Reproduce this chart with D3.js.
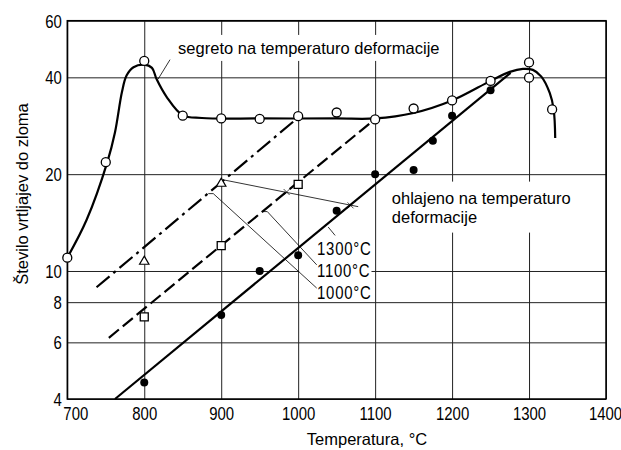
<!DOCTYPE html>
<html>
<head>
<meta charset="utf-8">
<script src="https://cdn.jsdelivr.net/npm/d3@7"></script>
<style>
  html, body { margin: 0; padding: 0; background: #fff; }
  svg { display: block; }
</style>
</head>
<body>
<svg id="chart" width="621" height="450"></svg>
<script>
// ---- data ---------------------------------------------------------------
const xTicks = [700, 800, 900, 1000, 1100, 1200, 1300, 1400];
const yTicks = [4, 6, 8, 10, 20, 40, 60];

// heated directly to deformation temperature (open circles)
const heatedPoints = [
  [700, 11.0], [750, 21.8], [800, 45.0], [850, 30.4], [900, 29.8],
  [950, 29.7], [1000, 30.3], [1050, 31.1], [1100, 29.6], [1150, 32.0],
  [1200, 33.9], [1250, 39.0], [1300, 44.5], [1300, 39.9], [1330, 31.8]
];
// hand-drawn trend curve through the heated series
const heatedCurve = [
  [700, 11.0], [725, 14.4], [752, 21.8], [762, 27.0], [771, 36.0],
  [777, 40.5], [786, 43.0], [800, 43.8], [810, 42.8], [816, 39.5],
  [829, 34.8], [850, 30.5], [875, 29.9], [950, 29.8], [1050, 29.8],
  [1100, 29.8], [1150, 31.0], [1200, 33.9], [1250, 39.0], [1275, 41.6],
  [1292, 42.5], [1305, 42.2], [1316, 40.2], [1327, 35.7], [1332, 31.8],
  [1334, 25.9]
];

// cooled to deformation temperature from 1300 / 1100 / 1000 °C
const cooled1300 = [
  [800, 4.5], [900, 7.3], [950, 10.0], [1000, 11.2], [1050, 15.4],
  [1100, 20.0], [1150, 20.6], [1175, 25.4], [1200, 30.4], [1250, 36.5]
];
const cooled1100 = [[800, 7.2], [900, 12.0], [1000, 18.6]];
const cooled1000 = [[800, 10.7], [900, 18.7]];

// straight trend lines (linear in log scale)
const fit1300 = [[762, 4.0], [1276, 41.3]];
const fit1100 = [[754, 6.2], [1100, 29.7]];
const fit1000 = [[738, 8.9], [1000, 30.0]];

// annotation text
const heatedLabel = "segreto na temperaturo deformacije";
const cooledLabel = ["ohlajeno na temperaturo", "deformacije"];
const fitLabels = ["1300°C", "1100°C", "1000°C"];
const xTitle = "Temperatura, °C";
const yTitle = "Število vrtljajev do zloma";

// annotation anchors (temperature, value)
const heatedLabelAt = [844, 47.3];
const cooledLabelAt = [1121.7, 16.2];
const fitLabelAt = [[1024.5, 11.21], [1024.5, 9.58], [1024.5, 8.21]];
const leaderHeated = [[833.5, 45.4], [818, 39.5]];
const leaderCooled = [[903, 19.2], [1078, 15.85]];
const leaderCrossings = [[985, 17.6], [1068, 16.0]];
const leader1300 = [[1039, 13.7], [1048, 12.9]];
const leader1100 = [[952.6, 15.3], [959.9, 15.3], [1024.1, 10.45]];
const leader1000 = [[883.2, 17.4], [889.7, 17.4], [1024.1, 8.85]];

// ---- layout -------------------------------------------------------------
const plot = { left: 67.3, right: 606, top: 20.7, bottom: 399 };
const textFont = '"Liberation Sans", Arial, Helvetica, sans-serif';
const squeeze = 0.83;   // horizontal compression for the condensed numerals

const svg = d3.select("#chart");

const x = d3.scaleLinear().domain([700, 1400]).range([plot.left, plot.right]);
const y = d3.scaleLog().domain([4, 60]).range([plot.bottom, plot.top]);

// ---- grid & axes --------------------------------------------------------
const gridColor = "#222";

const xAxis = svg.append("g")
  .attr("transform", `translate(0,${plot.bottom})`)
  .call(d3.axisBottom(x).tickValues(xTicks)
    .tickSize(-(plot.bottom - plot.top)).tickFormat(d3.format("d")));
xAxis.select(".domain").remove();
xAxis.selectAll(".tick line").attr("stroke", gridColor).attr("stroke-width", 1);
xAxis.selectAll(".tick text")
  .attr("y", 0).attr("dy", 0)
  .attr("x", d => (d === 700 ? 8 : d === 1400 ? -1 : 0) / squeeze)
  .attr("transform", `translate(0,21) scale(${squeeze},1)`)
  .style("font-family", textFont).style("font-size", "18px").attr("fill", "#000");

const yAxis = svg.append("g")
  .attr("transform", `translate(${plot.left},0)`)
  .call(d3.axisLeft(y).tickValues(yTicks)
    .tickSize(-(plot.right - plot.left)).tickFormat(d => String(d)));
yAxis.select(".domain").remove();
yAxis.selectAll(".tick line").attr("stroke", gridColor).attr("stroke-width", 1);
yAxis.selectAll(".tick text")
  .attr("x", -5.5 / squeeze).attr("dy", "0.36em")
  .attr("transform", `scale(${squeeze},1)`)
  .style("font-family", textFont).style("font-size", "18px").attr("fill", "#000");

// frame
svg.append("rect")
  .attr("x", plot.left).attr("y", plot.top)
  .attr("width", plot.right - plot.left).attr("height", plot.bottom - plot.top)
  .attr("fill", "none").attr("stroke", "#000").attr("stroke-width", 1.5);

// ---- label backgrounds (drawn above grid, below data) -------------------
const maskLayer = svg.append("g");
const dataLayer = svg.append("g");
const labelLayer = svg.append("g");

const hLabel = labelLayer.append("text")
  .attr("x", x(heatedLabelAt[0])).attr("y", y(heatedLabelAt[1]))
  .style("font-family", textFont).style("font-size", "16.5px")
  .text(heatedLabel);

const cLabel = labelLayer.append("text")
  .attr("x", x(cooledLabelAt[0])).attr("y", y(cooledLabelAt[1]))
  .style("font-family", textFont).style("font-size", "16.5px");
cLabel.selectAll("tspan").data(cooledLabel).join("tspan")
  .attr("x", x(cooledLabelAt[0]))
  .attr("dy", (d, i) => i === 0 ? 0 : 19)
  .text(d => d);

const fLabels = labelLayer.selectAll("text.fit").data(fitLabels).join("text")
  .attr("class", "fit")
  .attr("transform", (d, i) =>
    `translate(${x(fitLabelAt[i][0])},${y(fitLabelAt[i][1])}) scale(${squeeze},1)`)
  .style("font-family", textFont).style("font-size", "18px")
  .style("letter-spacing", "0.9px")
  .text(d => d);

function padBox(node, px, py) {
  const b = node.getBBox();
  return { x: b.x - px, y: b.y - py, w: b.width + 2 * px, h: b.height + 2 * py };
}
[[hLabel.node(), 3, 4], [cLabel.node(), 8, 7]].forEach(([n, px, py]) => {
  const b = padBox(n, px, py);
  maskLayer.append("rect").attr("x", b.x).attr("y", b.y)
    .attr("width", b.w).attr("height", b.h).attr("fill", "#fff");
});
{
  const boxes = fLabels.nodes().map(n => n.getBoundingClientRect());
  const svgBox = svg.node().getBoundingClientRect();
  const left = x(1000) + 1;
  const right = d3.max(boxes, b => b.right - svgBox.left);
  const top = d3.min(boxes, b => b.top - svgBox.top);
  const bottom = Math.min(d3.max(boxes, b => b.bottom - svgBox.top), y(8) - 1.5);
  maskLayer.append("rect").attr("x", left).attr("y", top)
    .attr("width", right - left).attr("height", bottom - top).attr("fill", "#fff");
}

// ---- data lines ---------------------------------------------------------
const line = d3.line().x(d => x(d[0])).y(d => y(d[1]));

dataLayer.append("path").datum(heatedCurve)
  .attr("d", line.curve(d3.curveCatmullRom.alpha(0.5)))
  .attr("fill", "none").attr("stroke", "#000").attr("stroke-width", 2.2);
line.curve(d3.curveLinear);

dataLayer.append("path").datum(fit1300).attr("d", line)
  .attr("fill", "none").attr("stroke", "#000").attr("stroke-width", 2.2);
dataLayer.append("path").datum(fit1100).attr("d", line)
  .attr("fill", "none").attr("stroke", "#000").attr("stroke-width", 2.2)
  .attr("stroke-dasharray", "13,5");
dataLayer.append("path").datum(fit1000).attr("d", line)
  .attr("fill", "none").attr("stroke", "#000").attr("stroke-width", 2.2)
  .attr("stroke-dasharray", "17,5,3,5");

// ---- leader lines -------------------------------------------------------
[leaderHeated, leaderCooled, leader1300, leader1100, leader1000].forEach(pts => {
  dataLayer.append("path").datum(pts).attr("d", line)
    .attr("fill", "none").attr("stroke", "#000").attr("stroke-width", 0.8);
});
leaderCrossings.forEach(([t, v]) => {
  const cx = x(t), cy = y(v);
  dataLayer.append("path")
    .attr("d", `M${cx - 3},${cy - 3}L${cx + 3},${cy + 3}M${cx - 3},${cy + 3}L${cx + 3},${cy - 3}`)
    .attr("stroke", "#000").attr("stroke-width", 0.7);
});

// ---- markers ------------------------------------------------------------
dataLayer.selectAll("circle.heated").data(heatedPoints).join("circle")
  .attr("class", "heated")
  .attr("cx", d => x(d[0])).attr("cy", d => y(d[1])).attr("r", 4.5)
  .attr("fill", "#fff").attr("stroke", "#000").attr("stroke-width", 1.3);

dataLayer.selectAll("circle.c1300").data(cooled1300).join("circle")
  .attr("class", "c1300")
  .attr("cx", d => x(d[0])).attr("cy", d => y(d[1])).attr("r", 4)
  .attr("fill", "#000");

dataLayer.selectAll("path.c1100").data(cooled1100).join("path")
  .attr("class", "c1100")
  .attr("d", d3.symbol(d3.symbolSquare, 64))
  .attr("transform", d => `translate(${x(d[0])},${y(d[1])})`)
  .attr("fill", "#fff").attr("stroke", "#000").attr("stroke-width", 1.3);

dataLayer.selectAll("path.c1000").data(cooled1000).join("path")
  .attr("class", "c1000")
  .attr("d", d3.symbol(d3.symbolTriangle, 38))
  .attr("transform", d => `translate(${x(d[0])},${y(d[1])})`)
  .attr("fill", "#fff").attr("stroke", "#000").attr("stroke-width", 1.2);

// ---- axis titles --------------------------------------------------------
svg.append("text")
  .attr("x", 367).attr("y", 445).attr("text-anchor", "middle")
  .style("font-family", textFont).style("font-size", "16.5px")
  .text(xTitle);

svg.append("text")
  .attr("transform", `translate(28,194) rotate(-90)`).attr("text-anchor", "middle")
  .style("font-family", textFont).style("font-size", "16.5px")
  .text(yTitle);

labelLayer.raise();
</script>
</body>
</html>
